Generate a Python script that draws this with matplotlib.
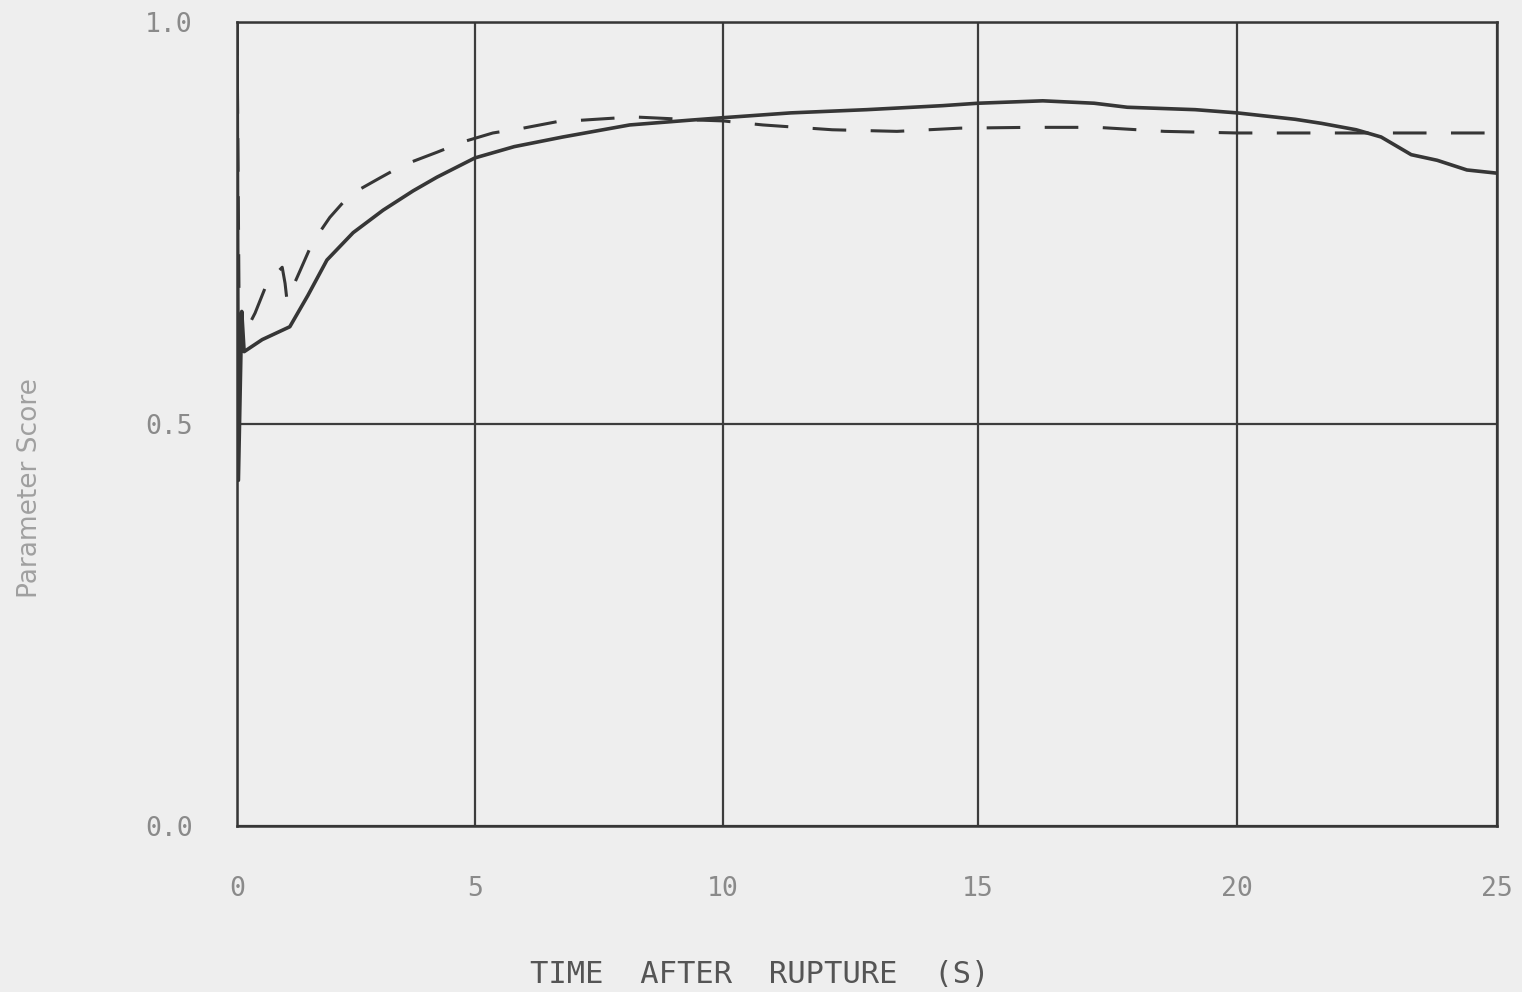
import matplotlib
matplotlib.use("Agg")
from matplotlib import pyplot as plt
import numpy as np

# solid curve (time in s, score)
solid_t = [0, 0.03, 0.1, 0.15, 0.53, 1.11, 1.49, 1.89, 2.44, 3.07, 3.70, 4.20, 5.0,
           5.79, 6.77, 8.12, 9.35, 10.0, 11.33, 12.82, 14.31, 15, 16.25, 17.24,
           17.88, 19.19, 20, 21.12, 21.62, 22.29, 22.77, 23.35, 23.85, 24.42, 25]
solid_y = [1.0, 0.43, 0.64, 0.59, 0.605, 0.621, 0.66, 0.704, 0.738, 0.766, 0.79,
           0.807, 0.831, 0.845, 0.857, 0.872, 0.878, 0.881, 0.887, 0.891, 0.896,
           0.899, 0.902, 0.899, 0.894, 0.891, 0.887, 0.879, 0.874, 0.866, 0.857,
           0.835, 0.828, 0.816, 0.812]

# dashed curve
dash_t = [0, 0.05, 0.38, 0.63, 0.95, 1.01, 1.05, 1.32, 1.58, 1.95, 2.37, 3.0, 3.49,
          4.2, 4.75, 5.36, 5.97, 6.65, 7.18, 8.19, 9.54, 10.0, 10.78, 12.14, 13.41,
          14.65, 16.0, 17.3, 18.6, 20, 22, 25]
dash_y = [1.0, 0.6, 0.638, 0.675, 0.695, 0.675, 0.654, 0.69, 0.725, 0.757, 0.785,
          0.806, 0.822, 0.838, 0.851, 0.862, 0.868, 0.876, 0.878, 0.882, 0.878,
          0.877, 0.872, 0.866, 0.864, 0.868, 0.869, 0.869, 0.864, 0.862, 0.862,
          0.862]

xticks = [0, 5, 10, 15, 20, 25]
yticks = [0.0, 0.5, 1.0]
ytick_labels = ["0.0", "0.5", "1.0"]

# the scanned x axis is not quite evenly spaced: where each tick sits
# as a fraction of the axis width
xtick_frac = [0, 0.1889, 0.3857, 0.5881, 0.7937, 1.0]


def fwd(t):
    return np.interp(t, xticks, xtick_frac)


def inv(f):
    return np.interp(f, xtick_frac, xticks)


bg = "#eeeeee"
ink = "#363636"
fig = plt.figure(figsize=(15.22, 9.92), dpi=100, facecolor=bg)
ax = fig.add_axes([0.1557, 0.1673, 0.9836 - 0.1557, 0.9778 - 0.1673])
ax.set_facecolor(bg)
ax.set_xscale("function", functions=(fwd, inv))

ax.plot(solid_t, solid_y, color=ink, lw=2.6, solid_joinstyle="round")
ax.plot(dash_t, dash_y, color=ink, lw=2.2, dashes=(11, 8))

ax.set_xlim(0, 25)
ax.set_ylim(0, 1)
ax.set_xticks(xticks)
ax.set_xticklabels([str(v) for v in xticks])
ax.set_yticks(yticks)
ax.set_yticklabels(ytick_labels)
ax.grid(True, color="#3c3c3c", lw=1.6)
ax.set_axisbelow(True)
for s in ax.spines.values():
    s.set_color(ink)
    s.set_linewidth(1.8)

ax.tick_params(length=0, labelsize=19, labelcolor="#8a8a8a")
ax.tick_params(axis="x", pad=36)
ax.tick_params(axis="y", pad=32)
for lab in ax.get_xticklabels() + ax.get_yticklabels():
    lab.set_family("DejaVu Sans Mono")

ax.set_xlabel("TIME  AFTER  RUPTURE  (S)", fontsize=22, color="#555555",
              family="DejaVu Sans Mono", va="center")
ax.xaxis.set_label_coords(0.415, -0.185)
ax.set_ylabel("Parameter Score", fontsize=19, color="#a0a0a0", va="center")
ax.yaxis.set_label_coords(-0.164, 0.42)

fig.savefig("out.png", dpi=100, facecolor=bg)
